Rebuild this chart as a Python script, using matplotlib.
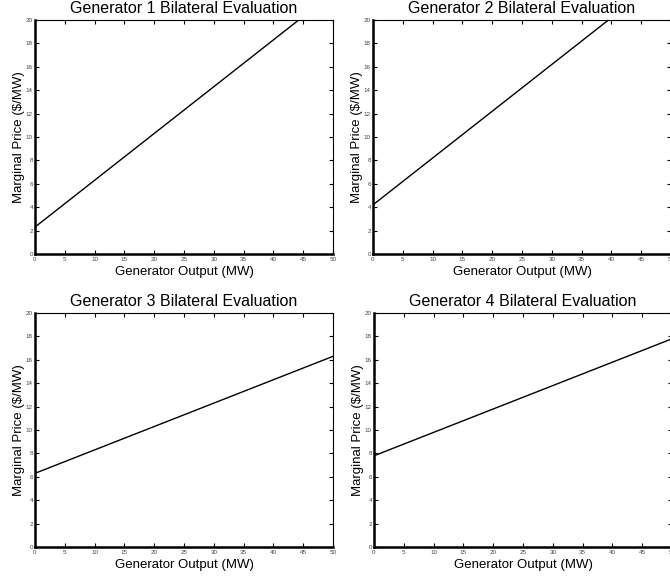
import numpy as np
import matplotlib
matplotlib.use('Agg')
import matplotlib.pyplot as plt
from matplotlib.ticker import MultipleLocator

plt.rcParams['font.family'] = ['Liberation Sans', 'DejaVu Sans']

# data
output_mw = [0, 50]
gen1_price = [2.3, 22.3]
gen2_price = [4.2, 24.2]
gen3_price = [6.3, 16.3]
gen4_price = [7.8, 17.8]
titles = ['Generator 1 Bilateral Evaluation', 'Generator 2 Bilateral Evaluation',
          'Generator 3 Bilateral Evaluation', 'Generator 4 Bilateral Evaluation']
prices = [gen1_price, gen2_price, gen3_price, gen4_price]

fig = plt.figure(figsize=(6.7, 5.82), dpi=100)

# axes boxes (left, bottom, width, height) in figure fraction
boxes = [
    [0.0522, 0.5636, 0.4448, 0.402],
    [0.5567, 0.5636, 0.4448, 0.402],
    [0.0522, 0.0601, 0.4448, 0.402],
    [0.5582, 0.0601, 0.4448, 0.402],
]

for box, title, price in zip(boxes, titles, prices):
    ax = fig.add_axes(box)
    ax.plot(output_mw, price, color='black', linewidth=1.0)
    ax.set_xlim(0, 50)
    ax.set_ylim(0, 20)
    ax.xaxis.set_major_locator(MultipleLocator(5))
    ax.yaxis.set_major_locator(MultipleLocator(2))
    ax.tick_params(direction='in', length=3, width=0.8, labelsize=4.5, pad=2.5,
                   top=True, right=True, labelcolor='#444444')
    ax.tick_params(axis='y', pad=1.5)
    ax.spines['left'].set_linewidth(1.8)
    ax.spines['bottom'].set_linewidth(1.8)
    ax.spines['top'].set_linewidth(0.8)
    ax.spines['right'].set_linewidth(0.8)
    ax.set_title(title, fontsize=11.5, pad=5)
    ax.set_xlabel('Generator Output (MW)', fontsize=9.5, labelpad=2.5)
    ax.set_ylabel('Marginal Price ($/MW)', fontsize=9.5, labelpad=0.5)

plt.savefig('out.png', dpi=100)
